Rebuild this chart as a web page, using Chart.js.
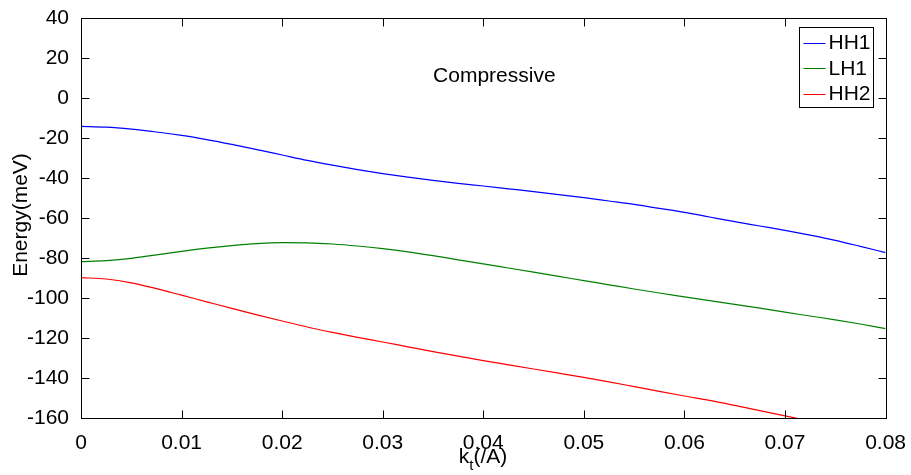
<!DOCTYPE html>
<html>
<head>
<meta charset="utf-8">
<script src="https://cdn.jsdelivr.net/npm/chart.js@4/dist/chart.umd.min.js"></script>
<style>
  html, body { margin: 0; padding: 0; background: #fff; }
  #wrap { width: 911px; height: 475px; }
</style>
</head>
<body>
<div id="wrap"><canvas id="myChart" width="911" height="475"></canvas></div>
<script>
// k_t values (1/A)
var kt = [0, 0.0025, 0.005, 0.0075, 0.01, 0.0125, 0.015, 0.0175, 0.02, 0.0225,
          0.025, 0.0275, 0.03, 0.0325, 0.035, 0.0375, 0.04, 0.0425, 0.045, 0.0475,
          0.05, 0.0525, 0.055, 0.0575, 0.06, 0.0625, 0.065, 0.0675, 0.07, 0.0725,
          0.075, 0.0775, 0.08];

// energies in meV
var hh1 = [-14.2, -14.6, -15.6, -17.0, -18.7, -20.8, -23.2, -25.8, -28.5, -31.2,
           -33.6, -35.8, -37.8, -39.6, -41.2, -42.7, -44.0, -45.4, -46.8, -48.3,
           -49.8, -51.5, -53.2, -55.2, -57.2, -59.5, -61.8, -64.0, -66.2, -68.6,
           -71.2, -74.2, -77.3];
var lh1 = [-81.8, -81.3, -80.2, -78.4, -76.7, -75.1, -73.8, -72.8, -72.3, -72.4,
           -73.0, -74.0, -75.3, -76.9, -78.8, -80.9, -82.9, -85.0, -87.1, -89.2,
           -91.3, -93.4, -95.5, -97.5, -99.4, -101.3, -103.2, -105.1, -107.1, -109.0,
           -110.9, -113.0, -115.3];
var hh2 = [-89.8, -90.5, -92.4, -95.3, -98.6, -101.9, -105.2, -108.4, -111.5, -114.5,
           -117.2, -119.7, -122.0, -124.4, -126.8, -129.1, -131.3, -133.4, -135.5, -137.6,
           -139.7, -141.9, -144.3, -146.7, -149.0, -151.2, -153.7, -156.3, -158.9, -161.6,
           -164.3, -167.0, -169.7];

var seriesNames = ["HH1", "LH1", "HH2"];
var seriesColors = ["#0000ff", "#008000", "#ff0000"];
var noteText = "Compressive";

var FONT = "'Liberation Sans', Arial, Helvetica, sans-serif";

function toPoints(ys) {
    return kt.map(function (x, i) { return { x: x, y: ys[i] }; });
}

// box, inward ticks on all four sides, legend and labels
var matlabBox = {
    id: "matlabBox",
    afterDraw: function (chart) {
        var ctx = chart.ctx;
        var a = chart.chartArea;
        var xs = chart.scales.x, ys = chart.scales.y;
        var L = Math.round(a.left) + 0.5, R = Math.round(a.right) + 0.5;
        var T = Math.round(a.top) + 0.5, B = Math.round(a.bottom) + 0.5;
        ctx.save();
        ctx.strokeStyle = "#000";
        ctx.lineWidth = 1;
        ctx.strokeRect(L, T, R - L, B - T);

        var tl = 8;
        ctx.beginPath();
        xs.ticks.forEach(function (t) {
            var p = Math.round(xs.getPixelForValue(t.value)) + 0.5;
            ctx.moveTo(p, B); ctx.lineTo(p, B - tl);
            ctx.moveTo(p, T); ctx.lineTo(p, T + tl);
        });
        ys.ticks.forEach(function (t) {
            var p = Math.round(ys.getPixelForValue(t.value)) + 0.5;
            ctx.moveTo(L, p); ctx.lineTo(L + tl, p);
            ctx.moveTo(R, p); ctx.lineTo(R - tl, p);
        });
        ctx.stroke();

        // note inside the plot
        ctx.fillStyle = "#000";
        ctx.font = "21px " + FONT;
        ctx.textAlign = "center";
        ctx.textBaseline = "alphabetic";
        ctx.fillText(noteText, xs.getPixelForValue(0.0411), ys.getPixelForValue(8));

        // y title
        ctx.save();
        ctx.translate(27, (a.top + a.bottom) / 2 - 3);
        ctx.rotate(-Math.PI / 2);
        ctx.fillText("Energy(meV)", 0, 0);
        ctx.restore();

        // x title with subscript
        ctx.textAlign = "left";
        var big = "21px " + FONT, small = "15px " + FONT;
        ctx.font = big; var wk = ctx.measureText("k").width;
        var wr = ctx.measureText("(/A)").width;
        ctx.font = small; var wt = ctx.measureText("t").width;
        var x0 = 483 - (wk + wt + wr) / 2, base = 463;
        ctx.font = big; ctx.fillText("k", x0, base);
        ctx.font = small; ctx.fillText("t", x0 + wk, base + 7);
        ctx.font = big; ctx.fillText("(/A)", x0 + wk + wt, base);

        // legend
        ctx.font = "21px " + FONT;
        var tw = 0;
        seriesNames.forEach(function (n) { tw = Math.max(tw, ctx.measureText(n).width); });
        var bw = 4 + 22 + 3 + tw + 3, bh = 80;
        var bx = Math.round(a.right - 13 - bw) + 0.5, by = Math.round(a.top + 9) + 0.5;
        ctx.fillStyle = "#fff";
        ctx.fillRect(bx, by, bw, bh);
        ctx.strokeStyle = "#000";
        ctx.strokeRect(bx, by, bw, bh);
        ctx.textBaseline = "middle";
        seriesNames.forEach(function (n, i) {
            var yy = by + 15 + i * 25.5;
            ctx.strokeStyle = seriesColors[i];
            ctx.beginPath();
            ctx.moveTo(bx + 4, Math.round(yy) + 0.5);
            ctx.lineTo(bx + 26, Math.round(yy) + 0.5);
            ctx.stroke();
            ctx.fillStyle = "#000";
            ctx.fillText(n, bx + 29, yy + 1);
        });
        ctx.restore();
    }
};

new Chart("myChart", {
    type: "line",
    data: {
        datasets: [
            { label: seriesNames[0], data: toPoints(hh1), borderColor: seriesColors[0] },
            { label: seriesNames[1], data: toPoints(lh1), borderColor: seriesColors[1] },
            { label: seriesNames[2], data: toPoints(hh2), borderColor: seriesColors[2] }
        ]
    },
    options: {
        responsive: false,
        animation: false,
        layout: { padding: { top: 18, right: 25, left: 0, bottom: 0 } },
        elements: {
            point: { radius: 0 },
            line: { borderWidth: 1.2, cubicInterpolationMode: "monotone", fill: false }
        },
        datasets: { line: { clip: 0 } },
        plugins: { legend: { display: false }, tooltip: { enabled: false } },
        scales: {
            x: {
                type: "linear", min: 0, max: 0.08,
                grid: { display: false },
                border: { display: false },
                ticks: {
                    stepSize: 0.01, color: "#000", padding: 5,
                    maxRotation: 0, autoSkip: false,
                    font: { family: FONT, size: 21 },
                    callback: function (v) { return String(Number(v.toFixed(2))); }
                },
                afterFit: function (s) { s.height = 57; }
            },
            y: {
                type: "linear", min: -160, max: 40,
                grid: { display: false },
                border: { display: false },
                ticks: {
                    stepSize: 20, color: "#000", padding: 4,
                    font: { family: FONT, size: 21 }
                },
                afterFit: function (s) { s.width = 81; }
            }
        }
    },
    plugins: [matlabBox]
});
</script>
</body>
</html>
